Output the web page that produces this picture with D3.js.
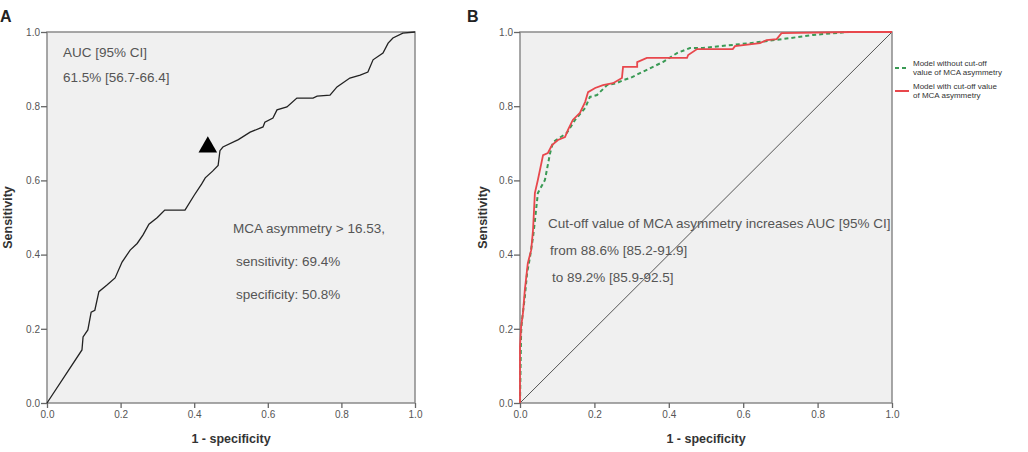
<!DOCTYPE html>
<html>
<head>
<meta charset="utf-8">
<script src="https://cdn.jsdelivr.net/npm/d3@7"></script>
<style>
  body { margin: 0; background: #fff; }
  svg { display: block; font-family: "Liberation Sans", Arial, sans-serif; }
</style>
</head>
<body>
<div id="chart"></div>
<script>
// shared ticks
const tickValues = [0, 0.2, 0.4, 0.6, 0.8, 1.0];

// panel A: single ROC curve (1 - specificity, sensitivity)
const rocA_fpr = [0, 0.095, 0.098, 0.111, 0.120, 0.130, 0.141, 0.163, 0.185, 0.204, 0.226, 0.245, 0.261, 0.277,
  0.300, 0.320, 0.375, 0.400, 0.420, 0.430, 0.450, 0.465, 0.470, 0.478, 0.520, 0.552, 0.587, 0.592, 0.614,
  0.625, 0.652, 0.679, 0.723, 0.734, 0.769, 0.788, 0.823, 0.851, 0.872, 0.886, 0.913, 0.927, 0.940, 0.967, 1.0];
const rocA_tpr = [0, 0.143, 0.178, 0.197, 0.245, 0.250, 0.300, 0.318, 0.337, 0.380, 0.412, 0.430, 0.453, 0.482,
  0.500, 0.520, 0.520, 0.560, 0.590, 0.607, 0.625, 0.640, 0.680, 0.690, 0.710, 0.730, 0.744, 0.757, 0.768,
  0.790, 0.798, 0.822, 0.822, 0.827, 0.830, 0.852, 0.876, 0.884, 0.892, 0.925, 0.943, 0.970, 0.984, 0.997, 1.0];
const cutoffA = [0.437, 0.69];
const textA_auc = ["AUC [95% CI]", "61.5% [56.7-66.4]"];
const textA_cut = ["MCA asymmetry > 16.53,", "sensitivity: 69.4%", "specificity: 50.8%"];

// panel B: model with / without cut-off value
const rocB_with_fpr = [0, 0, 0.003, 0.008, 0.013, 0.021, 0.030, 0.035, 0.040, 0.048, 0.062, 0.075, 0.086, 0.102,
  0.121, 0.129, 0.142, 0.161, 0.175, 0.183, 0.202, 0.223, 0.250, 0.274, 0.277, 0.315, 0.315, 0.341, 0.449,
  0.452, 0.476, 0.572, 0.578, 0.645, 0.663, 0.690, 0.703, 0.890, 1.0];
const rocB_with_tpr = [0, 0.151, 0.205, 0.243, 0.305, 0.377, 0.412, 0.466, 0.566, 0.601, 0.668, 0.674, 0.695, 0.709,
  0.717, 0.736, 0.763, 0.782, 0.811, 0.838, 0.849, 0.857, 0.862, 0.876, 0.906, 0.906, 0.919, 0.930, 0.930,
  0.938, 0.954, 0.954, 0.962, 0.970, 0.978, 0.981, 0.997, 1.0, 1.0];
const rocB_without_fpr = [0, 0.003, 0.005, 0.013, 0.019, 0.027, 0.035, 0.040, 0.048, 0.067, 0.081, 0.089, 0.126,
  0.148, 0.175, 0.188, 0.207, 0.234, 0.259, 0.280, 0.296, 0.341, 0.384, 0.422, 0.457, 0.492, 0.618, 0.707,
  0.788, 0.880, 1.0];
const rocB_without_tpr = [0, 0.190, 0.220, 0.286, 0.350, 0.394, 0.447, 0.490, 0.566, 0.601, 0.674, 0.703, 0.728,
  0.763, 0.795, 0.825, 0.830, 0.857, 0.862, 0.871, 0.876, 0.898, 0.919, 0.943, 0.957, 0.957, 0.970, 0.981,
  0.992, 1.0, 1.0];
const textB = ["Cut-off value of MCA asymmetry increases AUC [95% CI]", "from 88.6% [85.2-91.9]", "to 89.2% [85.9-92.5]"];
const legendB = [
  { lines: ["Model without cut-off", "value of MCA asymmetry"], color: "#3a9a55", dash: "4,3" },
  { lines: ["Model with cut-off value", "of MCA asymmetry"], color: "#e8474c", dash: null }
];

const W = 1028, H = 452;
const svg = d3.select("#chart").append("svg").attr("width", W).attr("height", H);

function zip(xs, ys) { return xs.map((x, i) => [x, ys[i]]); }

function drawPanel(left, right, label, labelX) {
  const top = 32, bottom = 403;
  const x = d3.scaleLinear().domain([0, 1]).range([left, right]);
  const y = d3.scaleLinear().domain([0, 1]).range([bottom, top]);
  const g = svg.append("g");

  g.append("rect")
    .attr("x", left).attr("y", top)
    .attr("width", right - left).attr("height", bottom - top)
    .attr("fill", "#f0f0f0")
    .attr("stroke", "#8a8a8a").attr("stroke-width", 1.5);

  const xAxis = g.append("g").attr("transform", `translate(0,${bottom})`)
    .call(d3.axisBottom(x).tickValues(tickValues).tickFormat(d3.format(".1f")).tickSize(5).tickPadding(3));
  const yAxis = g.append("g").attr("transform", `translate(${left},0)`)
    .call(d3.axisLeft(y).tickValues(tickValues).tickFormat(d3.format(".1f")).tickSize(6).tickPadding(1));
  [xAxis, yAxis].forEach(a => {
    a.select(".domain").remove();
    a.selectAll("line").attr("stroke", "#666").attr("stroke-width", 1.3);
    a.selectAll("text").attr("fill", "#555").style("font-size", "10px").style("font-family", "Liberation Sans, Arial");
  });

  g.append("text")
    .attr("x", (left + right) / 2).attr("y", 443)
    .attr("text-anchor", "middle")
    .style("font-size", "12.5px").style("font-weight", "bold").attr("fill", "#333")
    .text("1 - specificity");

  g.append("text")
    .attr("transform", `translate(${labelX},${(top + bottom) / 2}) rotate(-90)`)
    .attr("text-anchor", "middle")
    .style("font-size", "12.5px").style("font-weight", "bold").attr("fill", "#333")
    .text("Sensitivity");

  g.append("text")
    .attr("x", label === "A" ? 0 : 467).attr("y", 22)
    .style("font-size", "16px").style("font-weight", "bold").attr("fill", "#222")
    .text(label);

  return { g, x, y };
}

// ---- panel A
const pA = drawPanel(47, 415, "A", 12);
const lineA = d3.line().x(d => pA.x(d[0])).y(d => pA.y(d[1]));
pA.g.append("path")
  .datum(zip(rocA_fpr, rocA_tpr))
  .attr("d", lineA)
  .attr("fill", "none").attr("stroke", "#222").attr("stroke-width", 1.3);

pA.g.append("path")
  .attr("d", d3.symbol(d3.symbolTriangle, 150)())
  .attr("transform", `translate(${pA.x(cutoffA[0])},${pA.y(cutoffA[1])})`)
  .attr("fill", "#000");

pA.g.selectAll(".aucA").data(textA_auc).join("text")
  .attr("x", 63).attr("y", (d, i) => 57 + i * 25)
  .style("font-size", "13.5px").attr("fill", "#555")
  .text(d => d);

pA.g.selectAll(".cutA").data(textA_cut).join("text")
  .attr("x", (d, i) => 233 + (i ? 3 : 0)).attr("y", (d, i) => 233 + i * 33)
  .style("font-size", "13.5px").attr("fill", "#555")
  .text(d => d);

// ---- panel B
const pB = drawPanel(520, 892, "B", 487);
const lineB = d3.line().x(d => pB.x(d[0])).y(d => pB.y(d[1]));

pB.g.append("path")
  .datum([[0, 0], [1, 1]])
  .attr("d", lineB)
  .attr("stroke", "#555").attr("stroke-width", 1).attr("fill", "none");

pB.g.append("path")
  .datum(zip(rocB_without_fpr, rocB_without_tpr))
  .attr("d", lineB)
  .attr("fill", "none").attr("stroke", legendB[0].color).attr("stroke-width", 2)
  .attr("stroke-dasharray", legendB[0].dash);

pB.g.append("path")
  .datum(zip(rocB_with_fpr, rocB_with_tpr))
  .attr("d", lineB)
  .attr("fill", "none").attr("stroke", legendB[1].color).attr("stroke-width", 1.8);

pB.g.selectAll(".txtB").data(textB).join("text")
  .attr("x", (d, i) => 548 + i * 2).attr("y", (d, i) => 228 + i * 27)
  .style("font-size", "13.5px").attr("fill", "#555")
  .text(d => d);

// legend
const leg = svg.append("g").attr("transform", "translate(895,0)");
legendB.forEach((item, i) => {
  const cy = 68 + i * 23;
  leg.append("line")
    .attr("x1", 0).attr("x2", 14).attr("y1", cy).attr("y2", cy)
    .attr("stroke", item.color).attr("stroke-width", 2)
    .attr("stroke-dasharray", item.dash);
  item.lines.forEach((t, j) => {
    leg.append("text")
      .attr("x", 18).attr("y", cy - 2 + j * 9)
      .style("font-size", "8px").attr("fill", "#333")
      .text(t);
  });
});
</script>
</body>
</html>
